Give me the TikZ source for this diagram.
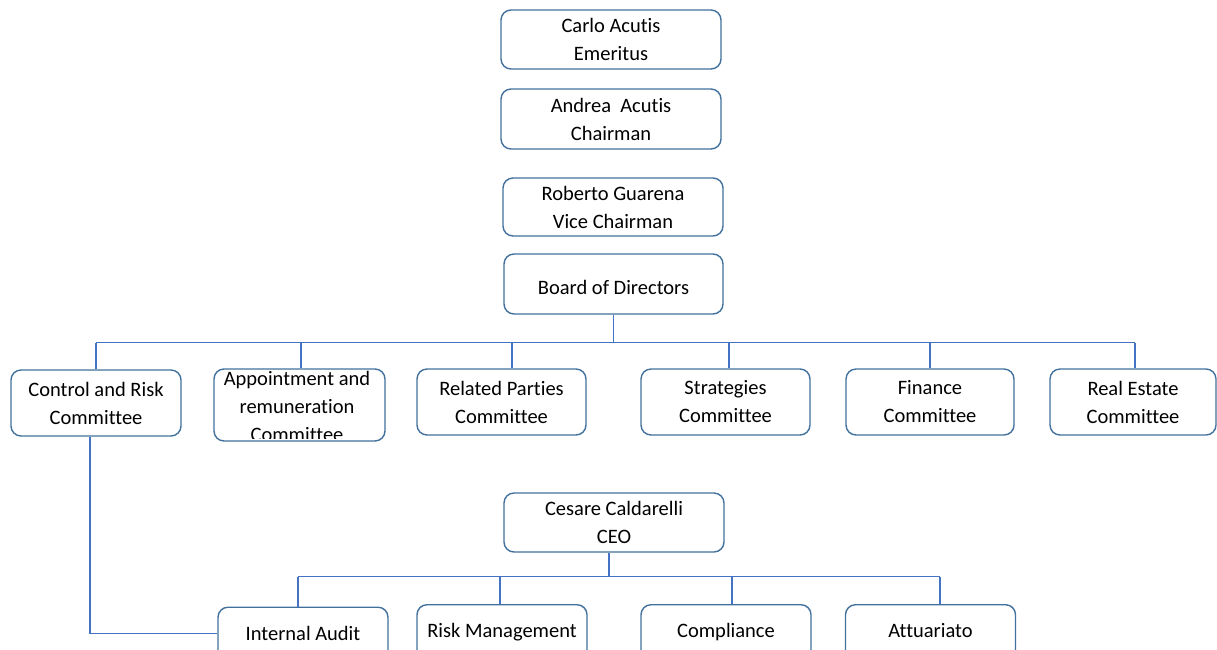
\documentclass[tikz,border=0pt]{standalone}
\usepackage{fontspec}
\setmainfont{Carlito}[Ligatures=NoCommon]
\definecolor{boxline}{HTML}{41719C}
\definecolor{linkblue}{HTML}{4472C4}
\begin{document}
\begin{tikzpicture}[x=1pt,y=-1pt,
      every node/.style={font=\fontsize{20.5}{28}\selectfont},
      box/.style={draw=boxline, line width=1.4pt, rounded corners=10pt, align=center, inner sep=0pt, fill=white},
      wide/.style={box, minimum width=220pt, minimum height=59pt},
      unit/.style={box, minimum width=169pt, minimum height=66pt},
      office/.style={box, anchor=north, minimum width=170pt, minimum height=56pt, text height=14pt, text depth=4pt},
      link/.style={draw=linkblue, line width=1.3pt}
    ]
      \useasboundingbox (0,0) rectangle (1217,649);
      \node[wide] (emeritus) at (611,39.5) {Carlo Acutis\\Emeritus};
      \node[wide, minimum height=60pt] (chairman) at (611,119) {Andrea\ \ Acutis\\Chairman};
      \node[wide, minimum height=58pt] (vice) at (613,207) {Roberto Guarena\\Vice Chairman};
      \node[wide, minimum width=219pt, minimum height=60pt, text height=22pt] (board) at (613.5,284) {Board of Directors};

      \node[unit, minimum width=170pt] (ctrl) at (96,403) {Control and Risk\\Committee};
      \node[unit, minimum width=171pt, minimum height=72pt] (appoint) at (299.5,405) {};
      \node[unit] (related) at (501.5,402) {Related Parties\\Committee};
      \node[unit] (strat) at (725.5,402) {Strategies\\Committee};
      \node[unit, minimum width=168pt] (finance) at (930,402) {Finance\\Committee};
      \node[unit, minimum width=166pt] (realest) at (1133,402) {Real Estate\\Committee};
      \begin{scope}
        \clip (appoint.north west) rectangle ([yshift=3pt]appoint.south east);
        \node[align=center, inner sep=0pt] (appointtext) at (297,406) {Appointment and\\remuneration\\Committee};
      \end{scope}

      \node[wide] (ceo) at (614,522.5) {Cesare Caldarelli\\CEO};
      \node[office] (audit) at (303,606.5) {Internal Audit};
      \node[office] (risk) at (502,604) {Risk Management};
      \node[office] (compliance) at (726,604) {Compliance};
      \node[office] (attuariato) at (930.5,604) {Attuariato};

      \draw[link] (board.south) -- ++(0,28) coordinate (bus);
      \draw[link] (ctrl.north |- bus) -- ([xshift=2pt]realest.north |- bus);
      \foreach \n/\dx in {ctrl/0,appoint/1.5,related/10.5,strat/3.5,finance/0,realest/2}
        \draw[link] ([xshift=\dx pt]\n.north) -- ([xshift=\dx pt]\n.north |- bus);

      \draw[link] ([xshift=-5pt]ceo.south) -- ++(0,24) coordinate (staff);
      \draw[link] ([xshift=-5pt]audit.north |- staff) -- ([xshift=9.5pt]attuariato.north |- staff);
      \foreach \n/\dx in {audit/-5,risk/-2,compliance/6,attuariato/9.5}
        \draw[link] ([xshift=\dx pt]\n.north) -- ([xshift=\dx pt]\n.north |- staff);

      \draw[link] ([xshift=-6pt]ctrl.south) |- ([yshift=2pt]audit.west);
    \end{tikzpicture}
\end{document}
